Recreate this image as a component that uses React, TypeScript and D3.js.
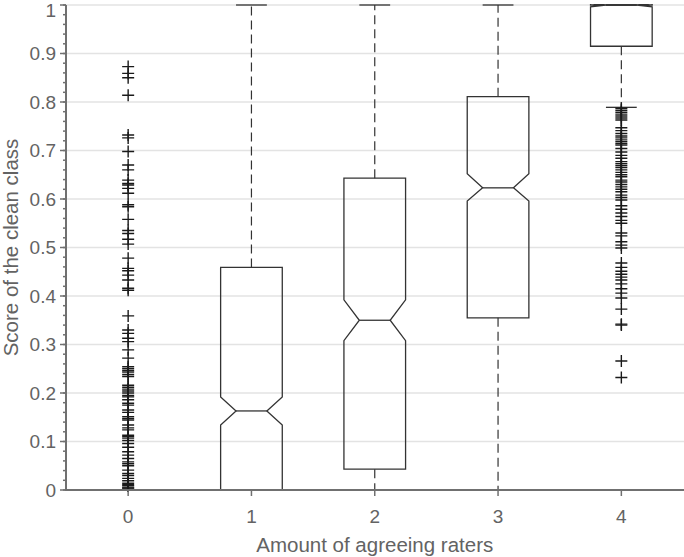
import React from 'react';
import { scaleLinear, range } from 'd3';

// box statistics per category
const categories = [0, 1, 2, 3, 4];
const q1 = [0, 0, 0.043, 0.355, 0.915];
const medians = [0, 0.163, 0.35, 0.623, 1];
const q3 = [0, 0.459, 0.643, 0.811, 1];
const notchLo = [0, 0.134, 0.308, 0.596, 0.996];
const notchHi = [0, 0.192, 0.392, 0.652, 1.004];
const whiskerLo = [0, 0, 0, 0, 0.789];
const whiskerHi = [0, 1, 1, 1, 1];

const outliers0 = [0.873, 0.859, 0.85, 0.814, 0.732, 0.726, 0.698, 0.67, 0.66, 0.639, 0.632, 0.629, 0.622,
  0.612, 0.588, 0.584, 0.558, 0.535, 0.529, 0.517, 0.507, 0.478, 0.457, 0.452, 0.443, 0.433, 0.416, 0.412,
  0.359, 0.33, 0.323, 0.313, 0.306, 0.289, 0.272, 0.254, 0.25, 0.246, 0.243, 0.238, 0.234, 0.216, 0.212,
  0.208, 0.204, 0.2, 0.195, 0.192, 0.186, 0.179, 0.175, 0.165, 0.16, 0.151, 0.147, 0.144, 0.134, 0.128,
  0.124, 0.113, 0.11, 0.107, 0.102, 0.096, 0.088, 0.079, 0.072, 0.065, 0.058, 0.054, 0.05, 0.041, 0.034,
  0.03, 0.024, 0.019, 0.014, 0.011, 0.009, 0.006, 0.004, 0.002];
const outliers4 = [0.787, 0.783, 0.779, 0.775, 0.771, 0.767, 0.763, 0.747, 0.741, 0.735, 0.73, 0.726, 0.722,
  0.718, 0.714, 0.711, 0.704, 0.697, 0.69, 0.684, 0.677, 0.673, 0.669, 0.665, 0.66, 0.655, 0.65, 0.646,
  0.639, 0.635, 0.63, 0.625, 0.62, 0.615, 0.608, 0.603, 0.598, 0.586, 0.579, 0.571, 0.564, 0.556, 0.55,
  0.53, 0.524, 0.512, 0.505, 0.499, 0.468, 0.459, 0.451, 0.445, 0.439, 0.433, 0.425, 0.415, 0.406, 0.396,
  0.373, 0.342, 0.34, 0.266, 0.232];
const outliers = [outliers0, [], [], [], outliers4];

const yTicks = range(0, 11).map((d) => d / 10);
const yTickLabels = ['0', '0.1', '0.2', '0.3', '0.4', '0.5', '0.6', '0.7', '0.8', '0.9', '1'];
const xLabel = 'Amount of agreeing raters';
const yLabel = 'Score of the clean class';

export default function App() {
  const width = 684;
  const height = 557;
  const left = 66;
  const right = 683;
  const top = 5;
  const bottom = 490;
  const font = '"Liberation Sans", Arial, Helvetica, sans-serif';
  const textColor = '#636363';
  const axisColor = '#707070';

  const x = scaleLinear().domain([-0.5, 4.5]).range([left + 0.5, right]);
  const y = scaleLinear().domain([0, 1]).range([bottom, top]);
  const half = x(0.25) - x(0);
  const inset = half / 2;
  const minor = range(0, 51).map((d) => d / 50);

  const boxPath = (i: number) => {
    const cx = x(categories[i]);
    const L = cx - half, R = cx + half;
    return `M${L},${y(q1[i])}L${L},${y(notchLo[i])}L${L + inset},${y(medians[i])}L${L},${y(notchHi[i])}` +
      `L${L},${y(q3[i])}L${R},${y(q3[i])}L${R},${y(notchHi[i])}L${R - inset},${y(medians[i])}` +
      `L${R},${y(notchLo[i])}L${R},${y(q1[i])}Z`;
  };

  return (
    <svg width={width} height={height} style={{ position: 'absolute', left: 0, top: 0, background: '#fff' }}>
      <defs>
        <clipPath id="plot">
          <rect x={left} y={top - 1} width={right - left + 2} height={bottom - top + 3} />
        </clipPath>
      </defs>
      {/* grid */}
      {yTicks.slice(1).map((t) => (
        <line key={t} x1={left} x2={width} y1={y(t)} y2={y(t)} stroke="#e3e3e3" strokeWidth={1.6} />
      ))}
      <g clipPath="url(#plot)">
        {categories.map((c, i) => {
          const cx = x(c);
          return (
            <g key={c}>
              <line x1={cx} x2={cx} y1={y(q3[i])} y2={y(whiskerHi[i])} stroke="#333" strokeWidth={1.2}
                strokeDasharray="9,5" />
              <line x1={cx} x2={cx} y1={y(q1[i])} y2={y(whiskerLo[i])} stroke="#333" strokeWidth={1.2}
                strokeDasharray="9,5" />
              <line x1={cx - inset} x2={cx + inset} y1={y(whiskerHi[i])} y2={y(whiskerHi[i])} stroke="#333"
                strokeWidth={1.3} />
              <line x1={cx - inset} x2={cx + inset} y1={y(whiskerLo[i])} y2={y(whiskerLo[i])} stroke="#333"
                strokeWidth={1.3} />
              <path d={boxPath(i)} fill="none" stroke="#333" strokeWidth={1.3} />
              <line x1={cx - inset} x2={cx + inset} y1={y(medians[i])} y2={y(medians[i])} stroke="#333"
                strokeWidth={1.3} />
              {outliers[i].map((v, j) => (
                <path key={j} d={`M${cx - 6},${y(v)}h12M${cx},${y(v) - 6}v12`} stroke="#1a1a1a"
                  strokeWidth={1.4} fill="none" />
              ))}
            </g>
          );
        })}
      </g>
      {/* y axis */}
      <line x1={left} x2={left} y1={top} y2={bottom} stroke={axisColor} strokeWidth={2} />
      {minor.map((t) => (
        <line key={t} x1={left - 3} x2={left} y1={y(t)} y2={y(t)} stroke={axisColor} strokeWidth={1.5} />
      ))}
      {yTicks.map((t, i) => (
        <g key={t}>
          <line x1={left - 6} x2={left} y1={y(t)} y2={y(t)} stroke={axisColor} strokeWidth={1.5} />
          <text x={left - 10} y={Math.max(y(t) + 6.6, 17)} textAnchor="end" fontFamily={font} fontSize={19}
            fill={textColor}>{yTickLabels[i]}</text>
        </g>
      ))}
      {/* x axis */}
      <line x1={left - 1} x2={width} y1={bottom} y2={bottom} stroke={axisColor} strokeWidth={2} />
      {categories.map((c) => (
        <g key={c}>
          <line x1={x(c)} x2={x(c)} y1={bottom} y2={bottom + 6} stroke={axisColor} strokeWidth={1.5} />
          <text x={x(c)} y={523} textAnchor="middle" fontFamily={font} fontSize={19} fill={textColor}>{c}</text>
        </g>
      ))}
      <text x={x(2)} y={552} textAnchor="middle" fontFamily={font} fontSize={20.5} fill={textColor}>{xLabel}</text>
      <text transform={`translate(18,${(top + bottom) / 2}) rotate(-90)`} textAnchor="middle" fontFamily={font}
        fontSize={20.5} fill={textColor}>{yLabel}</text>
    </svg>
  );
}
